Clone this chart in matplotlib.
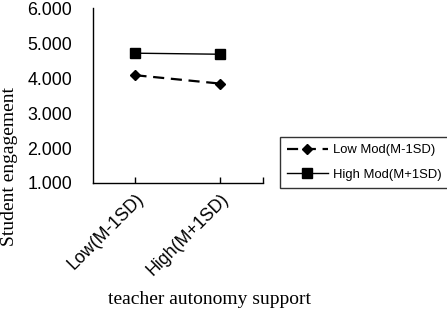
import matplotlib
matplotlib.use("Agg")
import matplotlib.pyplot as plt

categories = ["Low(M-1SD)", "High(M+1SD)"]
low_mod = [4.08, 3.84]
high_mod = [4.71, 4.68]
series_labels = ["Low Mod(M-1SD)", "High Mod(M+1SD)"]
yticks = [1, 2, 3, 4, 5, 6]

fig = plt.figure(figsize=(4.47, 3.11), dpi=100)
ax = fig.add_axes([0.208, 0.4116, 0.380, 0.5625])
x = list(range(len(categories)))
l1, = ax.plot(x, low_mod, color="black", linestyle=(0, (5, 3)), linewidth=1.6,
              marker="D", markersize=5, label=series_labels[0])
l2, = ax.plot(x, high_mod, color="black", linestyle="-", linewidth=1.0,
              marker="s", markersize=7, label=series_labels[1])
ax.set_xlim(-0.5, 1.5)
ax.set_ylim(1, 6)
ax.set_yticks(yticks)
ax.set_yticklabels([f"{v:.3f}" for v in yticks], fontfamily="Liberation Sans", fontsize=12.8)
ax.tick_params(axis="y", length=0, pad=15)
ax.set_yticks([6], minor=True)
ax.tick_params(axis="y", which="minor", direction="in", length=5, width=1)
ax.set_xticks(x)
ax.set_xticklabels(categories, rotation=45, ha="right", rotation_mode="anchor",
                   fontfamily="Liberation Sans", fontsize=12.8)
ax.set_xticks([1.5], minor=True)
ax.tick_params(axis="x", which="both", direction="in", length=4, width=1)
ax.tick_params(axis="x", which="major", pad=5)
for s in ["top", "right"]:
    ax.spines[s].set_visible(False)
for s in ["left", "bottom"]:
    ax.spines[s].set_linewidth(1.0)
fig.text(10/447, 1-166/311, "Student engagement", rotation=90, ha="center", va="center",
         fontfamily="Liberation Serif", fontsize=14)
fig.text(209/447, 1-300/311, "teacher autonomy support", ha="center", va="center",
         fontfamily="Liberation Serif", fontsize=14)

leg = fig.legend(handles=[l1, l2], loc="upper left", bbox_to_anchor=(280/447, 1-137/311),
                 borderaxespad=0,
                 prop={"family": "Liberation Sans", "size": 9.4}, frameon=True,
                 fancybox=False, edgecolor="black", handlelength=3.1,
                 borderpad=0.55, labelspacing=0.95, handletextpad=0.4)
leg.get_frame().set_linewidth(1.0)
fig.savefig("out.png", dpi=100)
